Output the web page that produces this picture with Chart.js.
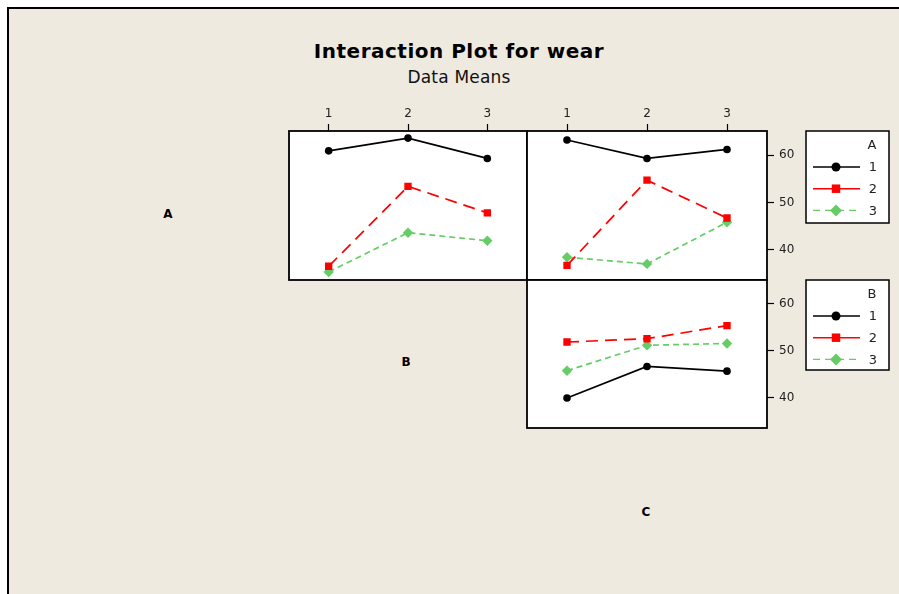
<!DOCTYPE html>
<html>
<head>
<meta charset="utf-8">
<script src="https://cdn.jsdelivr.net/npm/chart.js@4.4.1/dist/chart.umd.min.js"></script>
<style>
  html, body { margin: 0; padding: 0; background: #ffffff; }
  #page { position: relative; width: 899px; height: 594px; overflow: hidden; background: #ffffff; }
  #frame { position: absolute; left: 7px; top: 7px; width: 900px; height: 600px;
           border-left: 2px solid #000; border-top: 2px solid #000; background: #EEEAE0; }
  canvas { position: absolute; left: 0; top: 0; }
  .txt { position: absolute; color: #000; white-space: nowrap; transform: translate(-50%, -50%); }
  #title { left: 459px; top: 51px; font: bold 20px "DejaVu Sans", sans-serif; letter-spacing: 0.5px; }
  #subtitle { left: 459px; top: 77px; font: 17px "DejaVu Sans", sans-serif; color: #111; letter-spacing: 0.2px; }
  .diag { font: bold 12px "DejaVu Sans", sans-serif; }
</style>
</head>
<body>
<div id="page">
  <div id="frame"></div>
  <div class="txt" id="title">Interaction Plot for wear</div>
  <div class="txt" id="subtitle">Data Means</div>
  <div class="txt diag" style="left:168px; top:214px;">A</div>
  <div class="txt diag" style="left:406px; top:362px;">B</div>
  <div class="txt diag" style="left:646px; top:512px;">C</div>
  <canvas id="cAB" width="899" height="594"></canvas>
  <canvas id="cAC" width="899" height="594"></canvas>
  <canvas id="cBC" width="899" height="594"></canvas>
</div>
<script>
// Factor levels shared by A, B and C
const levels = ['1', '2', '3'];
const yTicks = [40, 50, 60];

// Mean wear for each A level across B levels
const abA1 = [60.9, 63.6, 59.3];
const abA2 = [36.5, 53.4, 47.8];
const abA3 = [35.3, 43.6, 41.9];

// Mean wear for each A level across C levels
const acA1 = [63.2, 59.3, 61.2];
const acA2 = [36.7, 54.7, 46.7];
const acA3 = [38.4, 37.0, 45.8];

// Mean wear for each B level across C levels
const bcB1 = [40.0, 46.7, 45.7];
const bcB2 = [51.9, 52.6, 55.4];
const bcB3 = [45.8, 51.2, 51.6];

const Y_MIN = 33.6, Y_MAX = 65.1;

const styles = [
  { color: '#000000', dash: [], point: 'circle', radius: 3.8 },
  { color: '#FF0000', dash: [12, 7], point: 'rect', radius: 5.2 },
  { color: '#66CC66', dash: [6, 4], point: 'rectRot', radius: 5.2 }
];

function makeDatasets(series) {
  return series.map((vals, i) => ({
    label: levels[i],
    data: vals,
    borderColor: styles[i].color,
    backgroundColor: styles[i].color,
    borderWidth: 1.7,
    borderDash: styles[i].dash,
    pointStyle: styles[i].point,
    pointRadius: styles[i].radius,
    pointBorderWidth: 0,
    pointBackgroundColor: styles[i].color,
    tension: 0
  }));
}

// White plot background and black frame around each panel
const panelFrame = {
  id: 'panelFrame',
  beforeDraw(chart) {
    const a = chart.chartArea, ctx = chart.ctx;
    ctx.save();
    ctx.fillStyle = '#ffffff';
    ctx.fillRect(a.left, a.top, a.right - a.left, a.bottom - a.top);
    ctx.restore();
  },
  afterDraw(chart) {
    const a = chart.chartArea, ctx = chart.ctx;
    ctx.save();
    ctx.strokeStyle = '#000000';
    ctx.lineWidth = 1.8;
    ctx.strokeRect(a.left, a.top, a.right - a.left, a.bottom - a.top);
    ctx.restore();
  }
};

function drawMarker(ctx, style, x, y, r) {
  ctx.beginPath();
  if (style === 'circle') {
    ctx.arc(x, y, r, 0, Math.PI * 2);
  } else if (style === 'rect') {
    const s = r * Math.SQRT1_2;
    ctx.rect(x - s, y - s, 2 * s, 2 * s);
  } else {
    ctx.moveTo(x, y - r); ctx.lineTo(x + r, y); ctx.lineTo(x, y + r); ctx.lineTo(x - r, y);
    ctx.closePath();
  }
  ctx.fill();
}

// Legend box listing the grouping factor levels
const factorLegend = {
  id: 'factorLegend',
  afterDraw(chart, args, opts) {
    if (!opts || !opts.box) return;
    const ctx = chart.ctx, b = opts.box;
    ctx.save();
    ctx.fillStyle = '#ffffff';
    ctx.fillRect(b.x, b.y, b.w, b.h);
    ctx.strokeStyle = '#000000';
    ctx.lineWidth = 1.5;
    ctx.strokeRect(b.x, b.y, b.w, b.h);
    ctx.fillStyle = '#222222';
    ctx.font = '13px "DejaVu Sans", sans-serif';
    ctx.textAlign = 'center';
    ctx.textBaseline = 'middle';
    ctx.fillText(opts.title, b.x + 66, b.y + 15);
    chart.data.datasets.forEach((ds, i) => {
      const y = b.y + opts.rowTop + i * opts.rowStep;
      const st = styles[i];
      ctx.strokeStyle = st.color;
      ctx.lineWidth = 1.4;
      ctx.setLineDash(i === 2 ? [7, 5] : []);
      ctx.beginPath();
      ctx.moveTo(b.x + 7, y);
      ctx.lineTo(b.x + 54, y);
      ctx.stroke();
      ctx.setLineDash([]);
      ctx.fillStyle = st.color;
      drawMarker(ctx, st.point, b.x + 30, y, st.point === 'circle' ? 4.5 : 6);
      ctx.fillStyle = '#222222';
      ctx.fillText(ds.label, b.x + 67, y + 1);
    });
    ctx.restore();
  }
};

function fixedTicks(values) {
  return function (scale) { scale.ticks = values.map(v => ({ value: v })); };
}

function buildChart(id, series, cfg) {
  return new Chart(document.getElementById(id), {
    type: 'line',
    data: { labels: levels, datasets: makeDatasets(series) },
    plugins: [panelFrame, factorLegend],
    options: {
      responsive: false,
      animation: false,
      devicePixelRatio: 1,
      layout: { padding: cfg.padding },
      plugins: {
        legend: { display: false },
        tooltip: { enabled: false },
        factorLegend: cfg.legend || {}
      },
      scales: {
        x: {
          type: 'category',
          position: 'top',
          offset: true,
          display: cfg.showX,
          grid: { offset: false, drawOnChartArea: false, drawTicks: true, tickLength: 7, tickWidth: 1.2, tickColor: '#000' },
          border: { display: false },
          ticks: { color: '#222', font: { family: 'DejaVu Sans', size: 12 }, padding: 3, maxRotation: 0 },
          afterFit(scale) { scale.height = cfg.showX ? 30 : 0; }
        },
        y: {
          type: 'linear',
          position: 'right',
          min: Y_MIN,
          max: Y_MAX,
          display: cfg.showY,
          afterBuildTicks: fixedTicks(yTicks),
          grid: { drawOnChartArea: false, drawTicks: true, tickLength: 7, tickWidth: 1.2, tickColor: '#000' },
          border: { display: false },
          ticks: { color: '#222', font: { family: 'DejaVu Sans', size: 12 }, padding: 5 },
          afterFit(scale) { scale.width = cfg.showY ? 40 : 0; }
        }
      }
    }
  });
}

// A by B (top left)
buildChart('cAB', [abA1, abA2, abA3], {
  showX: true, showY: false,
  padding: { left: 289, top: 101, right: 372, bottom: 314 }
});

// A by C (top right) with legend for A
buildChart('cAC', [acA1, acA2, acA3], {
  showX: true, showY: true,
  padding: { left: 527, top: 101, right: 92, bottom: 314 },
  legend: { title: 'A', box: { x: 806, y: 131, w: 83, h: 92 }, rowTop: 36, rowStep: 21.7 }
});

// B by C (bottom right) with legend for B
buildChart('cBC', [bcB1, bcB2, bcB3], {
  showX: false, showY: true,
  padding: { left: 527, top: 280, right: 92, bottom: 166 },
  legend: { title: 'B', box: { x: 806, y: 280, w: 83, h: 90 }, rowTop: 36, rowStep: 21.7 }
});
</script>
</body>
</html>
